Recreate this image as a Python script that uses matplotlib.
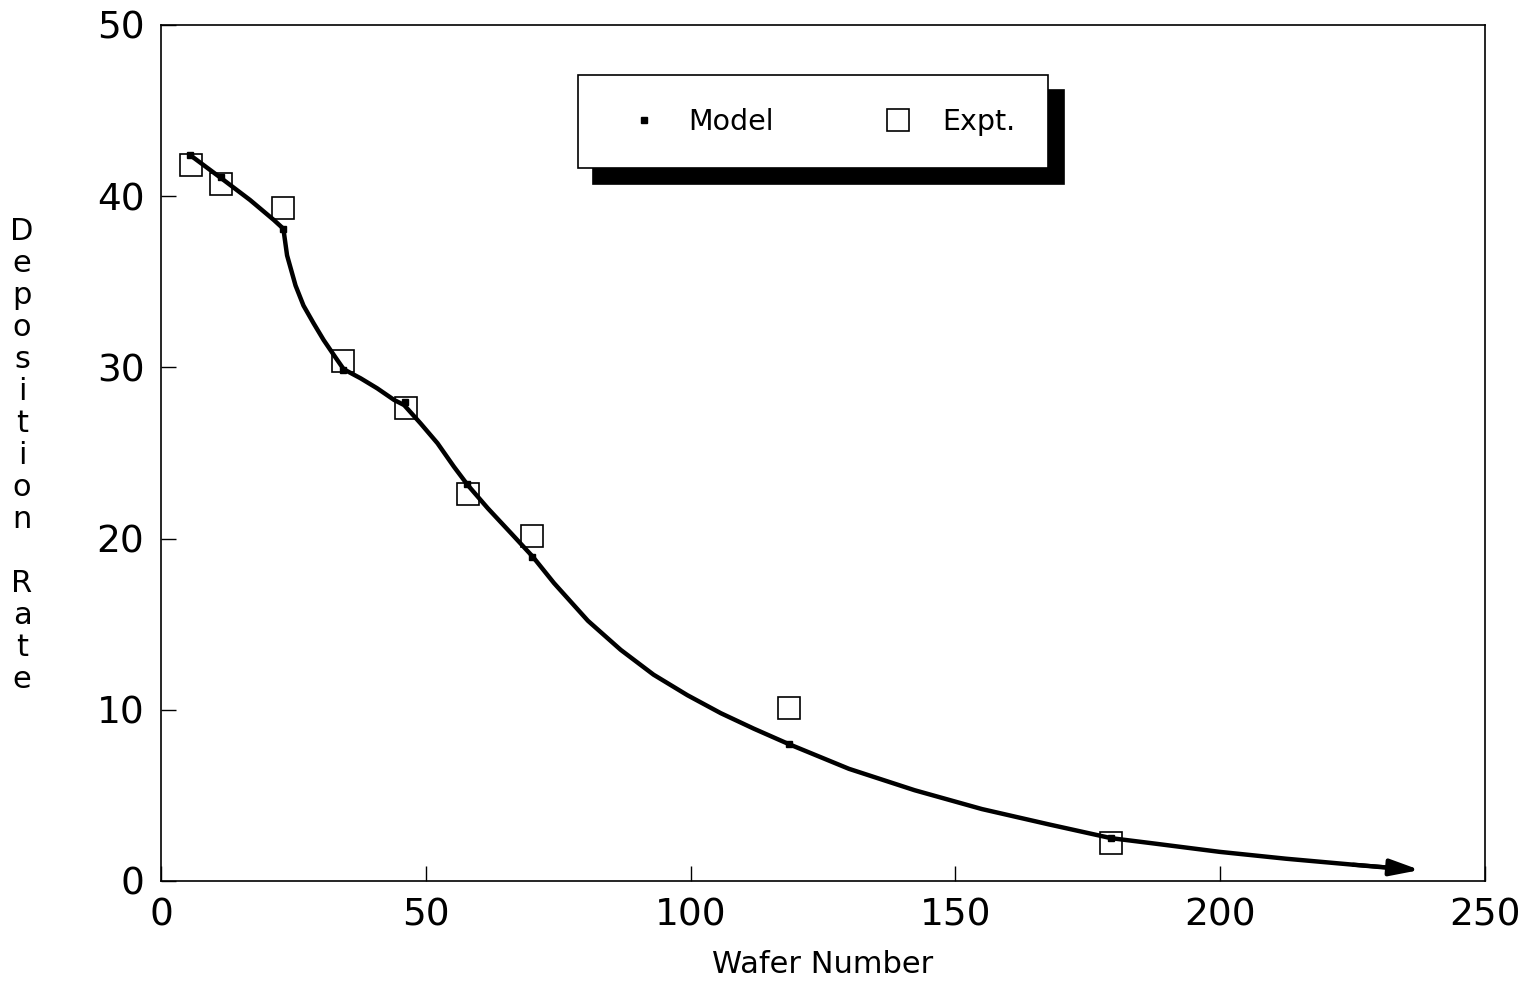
import matplotlib
matplotlib.use("Agg")
import matplotlib.pyplot as plt

# values
wafer_model = [5.5, 11.4, 23.1, 34.4, 46.0, 57.7, 70.0, 118.5, 179.4]
rate_model = [42.4, 41.1, 38.1, 29.85, 28.0, 23.2, 18.9, 8.0, 2.5]

wafer_expt = [5.7, 11.4, 23.1, 34.4, 46.2, 57.9, 70.0, 118.5, 179.3]
rate_expt = [41.8, 40.7, 39.3, 30.4, 27.6, 22.6, 20.15, 10.1, 2.2]

# model curve (last point is the arrow tip)
curve_x = [5.5, 11.8, 16.8, 21.3, 23.1, 23.8, 25.4, 26.9, 28.8, 30.7, 32.9,
           34.5, 37.7, 40.8, 44.0, 45.9, 49.0, 52.2, 55.3, 57.9, 61.7, 66.1,
           70.2, 74.2, 80.6, 86.8, 93.0, 99.4, 105.7, 111.9, 118.5, 129.9,
           142.3, 155.0, 167.7, 179.4, 187.2, 199.9, 212.4, 225.1, 234.5,
           237.7]
curve_y = [42.4, 40.95, 39.78, 38.61, 38.1, 36.54, 34.78, 33.61, 32.58, 31.6,
           30.6, 29.89, 29.36, 28.78, 28.1, 27.8, 26.73, 25.57, 24.2, 23.13,
           21.77, 20.31, 18.94, 17.4, 15.2, 13.5, 12.05, 10.85, 9.8, 8.9, 8.0,
           6.55, 5.3, 4.2, 3.3, 2.5, 2.2, 1.7, 1.3, 0.95, 0.7,
           0.64]

x_ticks = [0, 50, 100, 150, 200, 250]
y_ticks = [0, 10, 20, 30, 40, 50]

plt.rcParams["font.family"] = ["DejaVu Sans"]

fig = plt.figure(figsize=(15.22, 9.96), dpi=100)
ax = fig.add_axes([0.1058, 0.1155, 0.8699, 0.8594])

ax.plot(curve_x[:-1], curve_y[:-1], color="black", lw=3.2,
        solid_capstyle="round", solid_joinstyle="round", zorder=3)
ax.annotate("", xy=(curve_x[-1], curve_y[-1]), xytext=(curve_x[-3], curve_y[-3]),
            arrowprops=dict(arrowstyle="-|>,head_length=0.9,head_width=0.25",
                            color="black", lw=3, mutation_scale=20,
                            shrinkA=0, shrinkB=0), zorder=3)

ax.plot(wafer_model, rate_model, ls="none", marker="s", ms=5, color="black",
        label="Model", zorder=4)
ax.plot(wafer_expt, rate_expt, ls="none", marker="s", ms=15.5, mfc="none",
        mec="black", mew=1.2, label="Expt.", zorder=5)

ax.set_xlim(0, 250)
ax.set_ylim(0, 50)
ax.set_xticks(x_ticks)
ax.set_yticks(y_ticks)
ax.tick_params(direction="in", length=11, width=1, labelsize=27, pad=12,
               top=False, right=False)
for sp in ax.spines.values():
    sp.set_linewidth(1.2)

ax.set_xlabel("Wafer Number", fontsize=22, labelpad=12)
fig.text(0.0145, 0.543, "\n".join("Deposition Rate"), fontsize=22, ha="center",
         va="center", linespacing=1.13)

leg = ax.legend(ncol=2, loc="upper left", bbox_to_anchor=(0.315, 0.9416),
                borderaxespad=0, fontsize=20.5, frameon=True, fancybox=False,
                edgecolor="black", borderpad=1.15, handlelength=2.3,
                handletextpad=0.42, columnspacing=3.2,
                shadow={"color": "black", "alpha": 1, "ox": 11, "oy": -11})
leg.get_frame().set_linewidth(1.2)
leg.get_frame().set_alpha(1)

fig.savefig("out.png", dpi=100)
